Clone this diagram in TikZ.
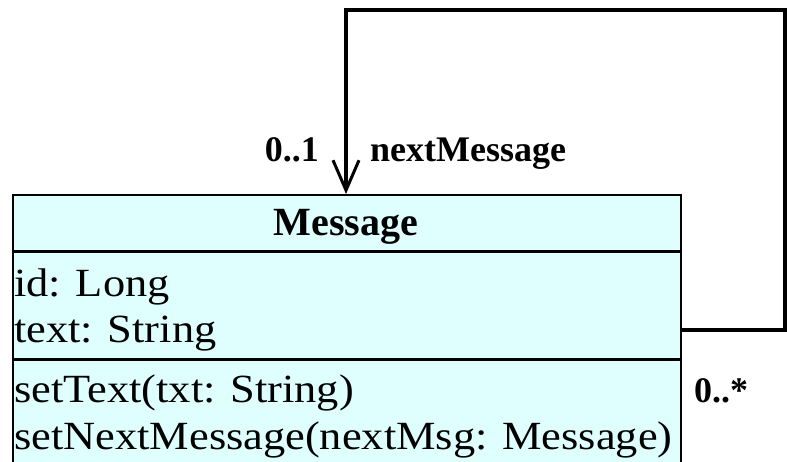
\documentclass[tikz,border=0pt]{standalone}
\usepackage{fontspec}
\setmainfont{Liberation Serif}
\newfontfamily\memberfont[FakeStretch=1.11]{Liberation Serif}
\usetikzlibrary{arrows.meta,positioning}
\definecolor{classfill}{RGB}{223,255,255}
\tikzset{
  classbox/.style={draw,fill=classfill,line width=2pt,inner sep=0pt,anchor=north west,
    minimum width=668pt,minimum height=290pt},
  divider/.style={line width=3pt},
  umltext/.style={inner sep=0pt,font=\memberfont\fontsize{40}{46}\selectfont,anchor=base west},
  umlhead/.style={inner sep=0pt,font=\fontsize{40}{46}\selectfont\bfseries},
  rolelabel/.style={inner sep=0pt,font=\fontsize{36}{40}\selectfont\bfseries},
  assoc/.style={line width=4pt,-{Straight Barb[length=30pt,width=26pt,line width=3pt]}},
}
\begin{document}
\begin{tikzpicture}[x=1pt,y=-1pt]
\useasboundingbox (0,0) rectangle (787,462);
\clip (0,0) rectangle (787,462);

% Class box
\node[classbox] (msg) at (12,194) {};
\draw[divider] (msg.west |- 0,252) -- (msg.east |- 0,252);
\draw[divider] (msg.west |- 0,359) -- (msg.east |- 0,359);

% Text Node
\node[umlhead,anchor=base] (msgname) at (346,236) {Message};
% Text Node
\node[umltext] (attrid) at (14,297) {id: Long};
\node[umltext] (attrtext) at (14,342) {text: String};
% Text Node
\node[umltext] (opsettext) at (14,402) {setText(txt: String)};
\node[umltext] (opsetnext) at (14,449) {setNextMessage(nextMsg: Message)};

% Self association
\coordinate (bend) at (784.5,10);
\draw[assoc] (msg.east |- 0,330) -| (bend) -| (msg.north -| 346,0);

% Text Node
\node[rolelabel,anchor=base east] (lowmult) at (319,162) {0..1};
% Text Node
\node[rolelabel,anchor=base west] (role) at (370,162) {nextMessage};
% Text Node
\node[rolelabel,anchor=base west] (highmult) at (694,402) {0..*};

\end{tikzpicture}
\end{document}
